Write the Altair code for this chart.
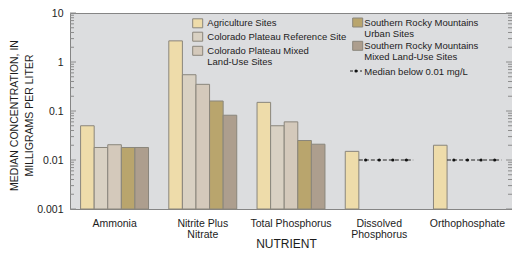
import altair as alt
import pandas as pd

# ---------------- data ----------------
nutrients = ["Ammonia", "Nitrite Plus\nNitrate", "Total Phosphorus",
             "Dissolved\nPhosphorus", "Orthophosphate"]
series = ["Agriculture Sites", "Colorado Plateau Reference Site",
          "Colorado Plateau Mixed Land-Use Sites",
          "Southern Rocky Mountains Urban Sites",
          "Southern Rocky Mountains Mixed Land-Use Sites"]
legend_labels = ["Agriculture Sites", "Colorado Plateau Reference Site",
                 "Colorado Plateau Mixed\n\u00a0Land-Use Sites",
                 "Southern Rocky Mountains\nUrban Sites",
                 "Southern Rocky Mountains\nMixed Land-Use Sites"]
median_label = "Median below 0.01 mg/L"

agriculture = [0.05, 2.7, 0.15, 0.015, 0.02]
cp_reference = [0.018, 0.55, 0.05, None, None]
cp_mixed = [0.0205, 0.35, 0.06, None, None]
srm_urban = [0.018, 0.16, 0.025, None, None]
srm_mixed = [0.018, 0.082, 0.021, None, None]
below_threshold = [None, None, None, 0.01, 0.01]   # median below 0.01 mg/L

major_ticks = [0.001, 0.01, 0.1, 1, 10]
minor_ticks = [m * 10.0 ** k for k in range(-3, 1) for m in range(2, 10)]

colors = ["#EEDCAA", "#D9D1C3", "#D4C9BB", "#B9A56D", "#AD9E8E"]

# ---------------- tables ----------------
rows = []
for s, vals in zip(series, [agriculture, cp_reference, cp_mixed, srm_urban, srm_mixed]):
    for n, v in zip(nutrients, vals):
        if v is not None:
            rows.append({"nutrient": n, "series": s, "value": v})
bars_df = pd.DataFrame(rows)

med_rows = []
for n, v in zip(nutrients, below_threshold):
    if v is not None:
        for s in series[1:]:
            med_rows.append({"nutrient": n, "series": s, "value": v})
med_df = pd.DataFrame(med_rows)
med_line_df = med_df.drop_duplicates("nutrient")

major_df = pd.DataFrame({"value": major_ticks})
minor_df = pd.DataFrame({"value": minor_ticks})

W, H = 442, 196
FONT = "Liberation Sans"
TXT = "#1c1c1c"
TICK = "#8c8c8c"

yscale = alt.Scale(type="log", domain=[0.001, 10], nice=False)
xscale = alt.Scale(domain=nutrients, paddingInner=0.23, paddingOuter=0.12)
oscale = alt.Scale(domain=series, paddingInner=0, paddingOuter=0)
cscale = alt.Scale(domain=series, range=colors)

x_axis = alt.Axis(title="NUTRIENT", labelExpr="split(datum.label, '\\n')",
                  ticks=False, domain=False, grid=False, labelPadding=9,
                  labelLineHeight=11, labelFontSize=10.5, labelAngle=0,
                  labelColor=TXT, titleFontSize=12, titleFontWeight="normal",
                  titleColor=TXT, titleY=29, titleBaseline="top", titleX=216)

y_axis = alt.Axis(orient="left", values=major_ticks, format="~g",
                  ticks=False, domain=False, grid=False, labelPadding=7,
                  labelFontSize=10.5, labelColor=TXT,
                  title=["MEDIAN CONCENTRATION, IN", "MILLIGRAMS PER LITER"],
                  titleFontSize=10.5, titleFontWeight="normal", titleColor=TXT,
                  titleLineHeight=15, titleX=-61, titleY=102,
                  titleBaseline="top")

X = alt.X("nutrient:N", scale=xscale, axis=x_axis, sort=nutrients)
Y = alt.Y("value:Q", scale=yscale, axis=y_axis)

bars = alt.Chart(bars_df).mark_bar(stroke="#8a867c", strokeWidth=1).encode(
    x=X,
    xOffset=alt.XOffset("series:N", scale=oscale, sort=series),
    y=Y,
    y2=alt.datum(0.001),
    color=alt.Color("series:N", scale=cscale, legend=None),
)

# inward ticks on left and right frame edges, positioned by the y scale
tick_layers = [
    alt.Chart(major_df).mark_rule(color=TICK).encode(y=Y, x=alt.value(0), x2=alt.value(6)),
    alt.Chart(minor_df).mark_rule(color=TICK).encode(y=Y, x=alt.value(0), x2=alt.value(4)),
    alt.Chart(major_df).mark_rule(color=TICK).encode(y=Y, x=alt.value(W - 6), x2=alt.value(W)),
    alt.Chart(minor_df).mark_rule(color=TICK).encode(y=Y, x=alt.value(W - 4), x2=alt.value(W)),
]

med_line = alt.Chart(med_line_df).mark_rule(color="#222", strokeDash=[4, 2], strokeWidth=1).encode(
    x=alt.X("nutrient:N", scale=xscale, axis=x_axis, sort=nutrients, bandPosition=0.2),
    x2=alt.X2("nutrient", bandPosition=1),
    y=Y,
)
med_pts = alt.Chart(med_df).mark_circle(size=10, color="#111", opacity=1).encode(
    x=X,
    xOffset=alt.XOffset("series:N", scale=oscale, sort=series),
    y=Y,
)

# ---------------- legend (manual, two columns) ----------------
sw_x = [122.7, 122.7, 122.7, 282.7, 282.7]
sw_y = [10.3, 23.7, 37.8, 9.5, 32.8]
tx_x = [137.3, 137.3, 137.3, 294.3, 294.3]
tx_y = [5.2, 18.6, 32.9, 5.2, 27.9]
leg_df = pd.DataFrame({
    "series": series, "label": legend_labels,
    "x": sw_x, "x2": [v + 10 for v in sw_x],
    "y": [v - 4.5 for v in sw_y], "y2": [v + 4.5 for v in sw_y],
    "tx": tx_x, "ty": tx_y,
})
leg_sw = alt.Chart(leg_df).mark_rect(stroke="#8a867c", strokeWidth=1).encode(
    x=alt.X("x:Q", scale=None), x2="x2:Q",
    y=alt.Y("y:Q", scale=None), y2="y2:Q",
    fill=alt.Fill("series:N", scale=cscale, legend=None),
)
leg_tx = alt.Chart(leg_df).mark_text(align="left", baseline="top", fontSize=9.5,
                                     lineBreak="\n", lineHeight=11.3, color=TXT,
                                     font=FONT).encode(
    x=alt.X("tx:Q", scale=None), y=alt.Y("ty:Q", scale=None), text="label:N",
)
one = pd.DataFrame({"label": [median_label]})
leg_med_line = alt.Chart(one).mark_rule(color="#222", strokeDash=[3, 2]).encode(
    x=alt.value(280), x2=alt.value(292), y=alt.value(58))
leg_med_dot = alt.Chart(one).mark_circle(size=10, color="#111", opacity=1).encode(
    x=alt.value(286), y=alt.value(58))
leg_med_tx = alt.Chart(one).mark_text(align="left", baseline="top", fontSize=9.5,
                                      color=TXT, font=FONT).encode(
    x=alt.value(294.3), y=alt.value(53.9), text="label:N")

chart = alt.layer(
    bars, *tick_layers, med_line, med_pts,
    leg_sw, leg_tx, leg_med_line, leg_med_dot, leg_med_tx,
).properties(
    width=W, height=H,
    autosize=alt.AutoSizeParams(type="none"),
    padding={"left": 62, "top": 5, "right": 0, "bottom": 43},
    background="white",
).configure(font=FONT).configure_view(fill="#DCDDDF", stroke="#858585", strokeWidth=1)

chart.save("out.html", embed_options={"renderer": "svg", "actions": False})
